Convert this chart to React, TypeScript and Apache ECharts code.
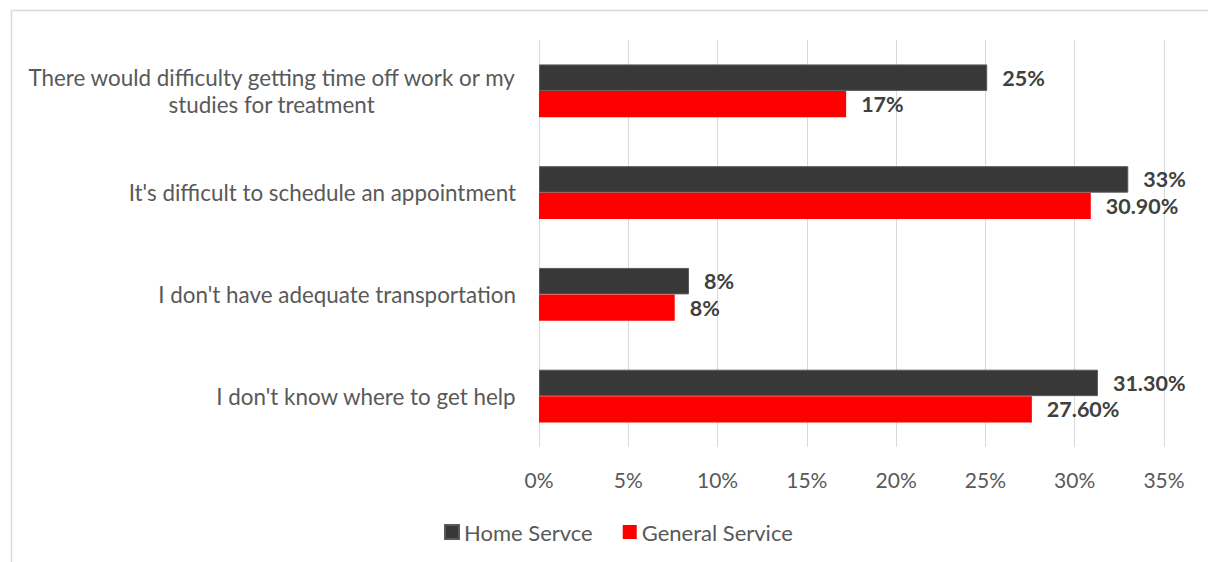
import React, { useEffect, useRef } from "react";
import * as echarts from "echarts";

const categories = [
  "There would difficulty getting time off work or my\nstudies for treatment",
  "It's difficult to schedule an appointment",
  "I don't have adequate transportation",
  "I don't know where to get help",
];
const seriesNames = ["Home Servce", "General Service"];
const homeValues = [25.1, 33, 8.4, 31.3];
const generalValues = [17.2, 30.9, 7.6, 27.6];
const homeLabels = ["25%", "33%", "8%", "31.30%"];
const generalLabels = ["17%", "30.90%", "8%", "27.60%"];
const xTicks = { min: 0, max: 35, interval: 5 };

const FONT = "Lato, 'Open Sans', sans-serif";

export default function App() {
  const ref = useRef<HTMLDivElement>(null);
  useEffect(() => {
    if (!ref.current) return;
    const chart = echarts.init(ref.current, null, { renderer: "svg" });
    chart.setOption({
      animation: false,
      backgroundColor: "#ffffff",
      textStyle: { fontFamily: FONT },
      graphic: [
        {
          type: "rect",
          shape: { x: 11.5, y: 10.5, width: 1400, height: 800 },
          style: { fill: "none", stroke: "#d9d9d9", lineWidth: 1.5 },
          silent: true,
        },
      ],
      grid: { left: 539, right: 44, top: 40, bottom: 115, containLabel: false },
      legend: {
        left: 444,
        top: 521,
        padding: 0,
        itemWidth: 14,
        itemHeight: 14,
        itemGap: 30,
        icon: "rect",
        textStyle: { fontFamily: FONT, fontSize: 22, color: "#595959", padding: [0, 0, 0, 0] },
        data: seriesNames,
      },
      xAxis: {
        type: "value",
        min: xTicks.min,
        max: xTicks.max,
        interval: xTicks.interval,
        axisLine: { show: false },
        axisTick: { show: false },
        splitLine: { show: true, lineStyle: { color: "#d9d9d9", width: 1 } },
        axisLabel: {
          formatter: "{value}%",
          color: "#595959",
          fontSize: 21,
          fontFamily: FONT,
          margin: 22,
        },
      },
      yAxis: {
        type: "category",
        inverse: true,
        data: categories,
        axisLine: { show: false },
        axisTick: { show: false },
        splitLine: { show: false },
        axisLabel: {
          margin: 23,
          formatter: (v: string) =>
            v
              .split("\n")
              .map((l) => `{c|${l}}`)
              .join("\n"),
          rich: {
            c: {
              align: "center",
              fontFamily: FONT,
              fontSize: 22.4,
              color: "#595959",
              lineHeight: 27,
            },
          },
        },
      },
      series: [
        {
          name: seriesNames[0],
          type: "bar",
          data: homeValues,
          barGap: "0%",
          barCategoryGap: "48%",
          itemStyle: { color: "#383838", borderColor: "#5a5a5a", borderWidth: 1 },
          label: {
            show: true,
            position: "right",
            distance: 15,
            formatter: (p: any) => homeLabels[p.dataIndex],
            fontFamily: FONT,
            fontWeight: "bold",
            fontSize: 21.5,
            color: "#404040",
          },
        },
        {
          name: seriesNames[1],
          type: "bar",
          data: generalValues,
          barGap: "0%",
          barCategoryGap: "48%",
          itemStyle: { color: "#ff0000" },
          label: {
            show: true,
            position: "right",
            distance: 15,
            formatter: (p: any) => generalLabels[p.dataIndex],
            fontFamily: FONT,
            fontWeight: "bold",
            fontSize: 21.5,
            color: "#404040",
          },
        },
      ],
    });
    return () => chart.dispose();
  }, []);
  return (
    <div
      ref={ref}
      style={{ position: "absolute", left: 0, top: 0, width: 1208, height: 562 }}
    />
  );
}
